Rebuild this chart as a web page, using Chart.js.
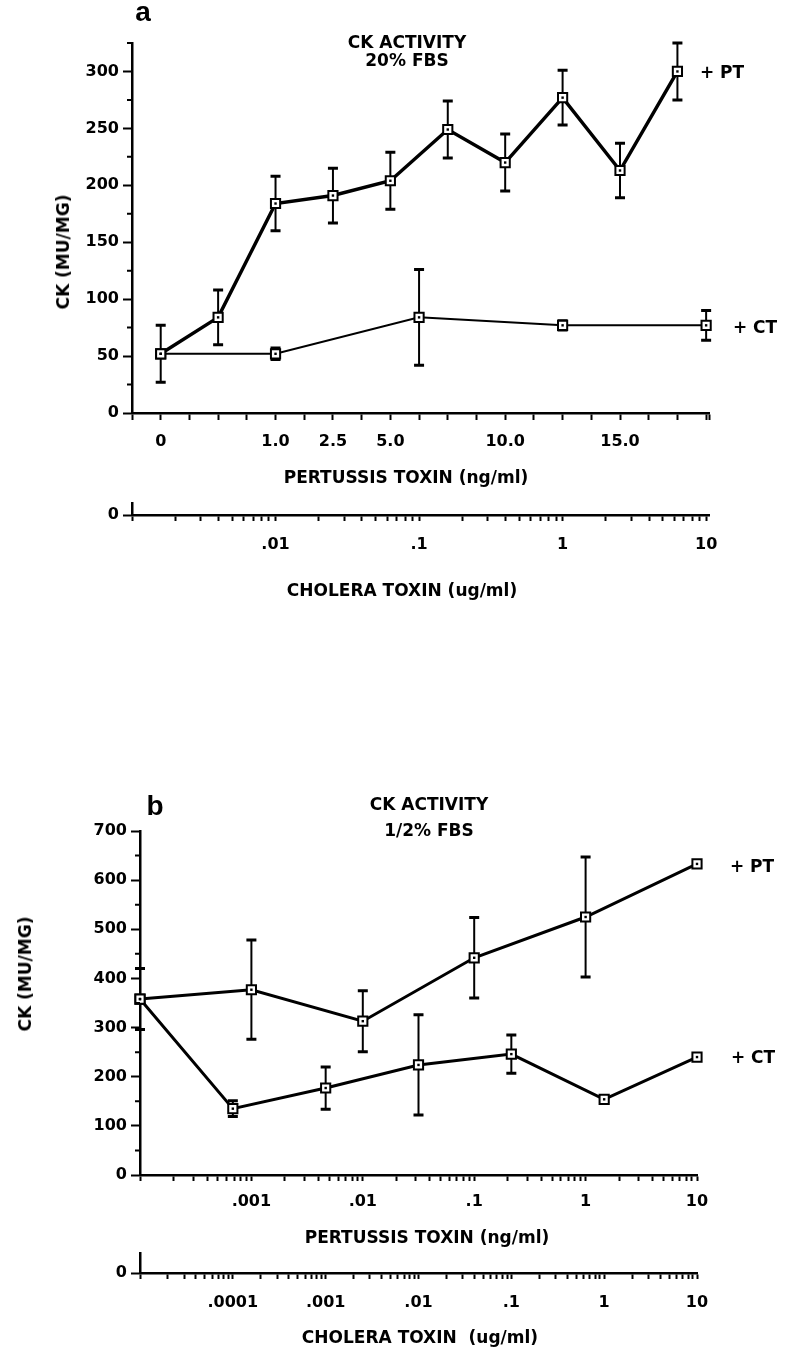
<!DOCTYPE html>
<html>
<head>
<meta charset="utf-8">
<script src="https://cdn.jsdelivr.net/npm/chart.js@4/dist/chart.umd.min.js"></script>
<style>
  body { margin: 0; background: #fff; }
  #page { position: relative; width: 791px; height: 1351px; overflow: hidden; }
  canvas { position: absolute; left: 0; }
  .t { position: absolute; transform: translate(-50%, -50%); font-family: 'DejaVu Sans'; font-weight: bold;
       font-size: 17px; color: #000; white-space: pre; text-align: center; line-height: 18px; }
  .rot { transform: translate(-50%, -50%) rotate(-90deg); }
  .letter { font-family: 'Liberation Sans'; font-size: 28px; }
</style>
</head>
<body>
<div id="page">
  <canvas id="a1" width="791" height="500" style="top:0px"></canvas>
  <canvas id="a2" width="791" height="120" style="top:490px"></canvas>
  <canvas id="b1" width="791" height="480" style="top:780px"></canvas>
  <canvas id="b2" width="791" height="111" style="top:1240px"></canvas>

  <div class="t letter" style="left:143px;top:12px">a</div>
  <div class="t" style="left:407px;top:51px">CK ACTIVITY<br>20% FBS</div>
  <div class="t rot" style="left:63px;top:252px">CK (MU/MG)</div>
  <div class="t" style="left:722px;top:72px">+ PT</div>
  <div class="t" style="left:755px;top:327px">+ CT</div>
  <div class="t" style="left:406px;top:477px">PERTUSSIS TOXIN (ng/ml)</div>
  <div class="t" style="left:402px;top:590px">CHOLERA TOXIN (ug/ml)</div>

  <div class="t letter" style="left:155px;top:806px">b</div>
  <div class="t" style="left:429px;top:817px;line-height:26px">CK ACTIVITY<br>1/2% FBS</div>
  <div class="t rot" style="left:25px;top:974px">CK (MU/MG)</div>
  <div class="t" style="left:752px;top:866px">+ PT</div>
  <div class="t" style="left:753px;top:1057px">+ CT</div>
  <div class="t" style="left:427px;top:1237px">PERTUSSIS TOXIN (ng/ml)</div>
  <div class="t" style="left:420px;top:1337px">CHOLERA TOXIN  (ug/ml)</div>
</div>

<script>
// panel a : 20% FBS, pertussis doses shown as evenly spaced positions
const aPtPos = [0, 1, 2, 3, 4, 5, 6, 7, 8, 9];
const aPtTickPos = [0, 2, 3, 4, 6, 8];
const aPtTickLabels = ['0', '1.0', '2.5', '5.0', '10.0', '15.0'];
const aPtMean = [52, 84, 184, 191, 204, 249, 220, 277, 213, 300];
const aPtErr = [25, 24, 24, 24, 25, 25, 25, 24, 24, 25];

const aCtDose = [0, 0.01, 0.1, 1, 10];
const aCtMean = [52, 52, 84, 77, 77];
const aCtErr = [0, 5, 42, 4, 13];
const aCtTickVals = [0.01, 0.1, 1, 10];
const aCtTickLabels = ['.01', '.1', '1', '10'];

// panel b : 1/2% FBS
const bPtDose = [0, 0.001, 0.01, 0.1, 1, 10];
const bPtMean = [358, 377, 313, 442, 525, 633];
const bPtErr = [62, 101, 62, 82, 122, 0];
const bPtTickVals = [0.001, 0.01, 0.1, 1, 10];
const bPtTickLabels = ['.001', '.01', '.1', '1', '10'];

const bCtDose = [0, 0.0001, 0.001, 0.01, 0.1, 1, 10];
const bCtMean = [358, 135, 177, 224, 246, 154, 240];
const bCtErr = [0, 16, 43, 102, 39, 0, 0];
const bCtTickVals = [0.0001, 0.001, 0.01, 0.1, 1, 10];
const bCtTickLabels = ['.0001', '.001', '.01', '.1', '1', '10'];

Chart.defaults.font.family = 'DejaVu Sans';
Chart.defaults.font.weight = 'bold';
Chart.defaults.font.size = 16;
Chart.defaults.color = '#000';

// cholera dose -> position on panel a's shared dose axis (one decade = 2.5 positions, .01 at 2)
function aCtPos(c) {
  return c === 0 ? 0 : 2 + 2.5 * (Math.log10(c) + 2);
}

function logTicks(minExp, maxExp) {
  const out = [];
  for (let d = minExp; d < maxExp; d++) {
    for (let m = 1; m < 10; m++) out.push(m * Math.pow(10, d));
  }
  out.push(Math.pow(10, maxExp));
  return out;
}

function labelFrom(vals, labels) {
  return function (v) {
    for (let i = 0; i < vals.length; i++) {
      const t = vals[i];
      const same = t === 0 ? Math.abs(v) < 1e-9 : Math.abs(v / t - 1) < 1e-6;
      if (same) return labels[i];
    }
    return '';
  };
}

const errorBars = {
  id: 'errorBars',
  beforeDatasetsDraw(chart) {
    const ctx = chart.ctx;
    chart.data.datasets.forEach((ds, i) => {
      if (!ds.errors) return;
      const meta = chart.getDatasetMeta(i);
      const ys = chart.scales[meta.yAxisID];
      ctx.save();
      ctx.strokeStyle = '#000';
      meta.data.forEach((pt, j) => {
        const e = ds.errors[j];
        if (!e) return;
        const v = ds.data[j].y;
        const top = ys.getPixelForValue(v + e);
        const bot = ys.getPixelForValue(v - e);
        ctx.lineWidth = 2;
        ctx.beginPath();
        ctx.moveTo(pt.x, top);
        ctx.lineTo(pt.x, bot);
        ctx.stroke();
        ctx.lineWidth = 3;
        ctx.beginPath();
        ctx.moveTo(pt.x - 5, top);
        ctx.lineTo(pt.x + 5, top);
        ctx.moveTo(pt.x - 5, bot);
        ctx.lineTo(pt.x + 5, bot);
        ctx.stroke();
      });
      ctx.restore();
    });
  },
  afterDatasetsDraw(chart) {
    // small dot inside each open square
    const ctx = chart.ctx;
    ctx.save();
    ctx.fillStyle = '#000';
    chart.data.datasets.forEach((ds, i) => {
      chart.getDatasetMeta(i).data.forEach(pt => {
        ctx.fillRect(pt.x - 1.2, pt.y - 1.2, 2.4, 2.4);
      });
    });
    ctx.restore();
  }
};

const minorTicks = {
  id: 'minorTicks',
  afterDraw(chart, args, opts) {
    if (!opts.values) return;
    const s = chart.scales.y;
    const ctx = chart.ctx;
    ctx.save();
    ctx.strokeStyle = '#000';
    ctx.lineWidth = 2;
    ctx.beginPath();
    opts.values.forEach(v => {
      const y = s.getPixelForValue(v);
      ctx.moveTo(s.right - 5, y);
      ctx.lineTo(s.right, y);
    });
    ctx.stroke();
    ctx.restore();
  }
};

function lineSet(xs, ys, errs, width, xAxis) {
  return {
    data: xs.map((x, i) => ({ x: x, y: ys[i] })),
    errors: errs,
    xAxisID: xAxis || 'x',
    borderColor: '#000',
    borderWidth: width,
    tension: 0,
    clip: false,
    pointStyle: 'rect',
    pointRadius: 6.5,
    pointBackgroundColor: '#fff',
    pointBorderColor: '#000',
    pointBorderWidth: 2
  };
}

function yAxis(max, majors, width) {
  return {
    type: 'linear',
    min: 0,
    max: max,
    afterBuildTicks: s => { s.ticks = majors.map(v => ({ value: v })); },
    afterFit: s => { s.width = width; },
    ticks: { padding: 4, font: { size: 16 } },
    grid: { drawOnChartArea: false, tickLength: 9, tickWidth: 2, tickColor: '#000' },
    border: { color: '#000', width: 2.5 }
  };
}

function xAxis(type, min, max, tickVals, labelCb, height, pad, tickLen) {
  return {
    type: type,
    min: min,
    max: max,
    afterBuildTicks: s => { s.ticks = tickVals.map(v => ({ value: v })); },
    afterFit: s => { s.height = height; },
    ticks: { padding: pad, autoSkip: false, maxRotation: 0, minRotation: 0, callback: labelCb, font: { size: 16 } },
    grid: { drawOnChartArea: false, tickLength: tickLen || 6, tickWidth: 2, tickColor: '#000' },
    border: { color: '#000', width: 2.5 }
  };
}

const common = {
  responsive: false,
  animation: false,
  devicePixelRatio: 1,
  plugins: { legend: { display: false }, tooltip: { enabled: false } }
};

// panel a, main plot
const aHalfSteps = [];
for (let n = -1; n <= 19; n++) aHalfSteps.push(n / 2);
aHalfSteps.push(9.55);
const aMinor = [];
for (let v = 25; v <= 325; v += 50) aMinor.push(v);

new Chart(document.getElementById('a1'), {
  type: 'line',
  data: {
    datasets: [
      lineSet(aCtDose.map(aCtPos), aCtMean, aCtErr, 2),
      lineSet(aPtPos, aPtMean, aPtErr, 3.5)
    ]
  },
  options: Object.assign({}, common, {
    layout: { padding: { left: 0, right: 82, top: 43, bottom: 0 } },
    plugins: Object.assign({}, common.plugins, { minorTicks: { values: aMinor } }),
    scales: {
      x: xAxis('linear', -0.5, 9.55, aHalfSteps, labelFrom(aPtTickPos, aPtTickLabels), 87, 12, 7),
      y: yAxis(325, [0, 50, 100, 150, 200, 250, 300], 132)
    }
  }),
  plugins: [errorBars, minorTicks]
});

// panel a, cholera toxin axis
new Chart(document.getElementById('a2'), {
  type: 'line',
  data: { datasets: [] },
  options: Object.assign({}, common, {
    layout: { padding: { left: 0, right: 82, top: 12, bottom: 0 } },
    scales: {
      x: xAxis('logarithmic', 0.001, 10.47, logTicks(-3, 1), labelFrom(aCtTickVals, aCtTickLabels), 95, 14),
      y: yAxis(1, [0], 132)
    }
  })
});

// panel b, main plot
const bMinor = [];
for (let v = 50; v <= 650; v += 100) bMinor.push(v);

new Chart(document.getElementById('b1'), {
  type: 'line',
  data: {
    datasets: [
      lineSet(bCtDose.map(c => c === 0 ? 1e-5 : c), bCtMean, bCtErr, 3, 'xc'),
      lineSet(bPtDose.map(c => c === 0 ? 1e-4 : c), bPtMean, bPtErr, 3)
    ]
  },
  options: Object.assign({}, common, {
    layout: { padding: { left: 0, right: 94, top: 51, bottom: 0 } },
    plugins: Object.assign({}, common.plugins, { minorTicks: { values: bMinor } }),
    scales: {
      x: xAxis('logarithmic', 1e-4, 10, logTicks(-4, 1), labelFrom(bPtTickVals, bPtTickLabels), 85, 11),
      xc: { type: 'logarithmic', min: 1e-5, max: 10, display: false },
      y: yAxis(700, [0, 100, 200, 300, 400, 500, 600, 700], 140)
    }
  }),
  plugins: [errorBars, minorTicks]
});

// panel b, cholera toxin axis
new Chart(document.getElementById('b2'), {
  type: 'line',
  data: { datasets: [] },
  options: Object.assign({}, common, {
    layout: { padding: { left: 0, right: 94, top: 13, bottom: 0 } },
    scales: {
      x: xAxis('logarithmic', 1e-5, 10, logTicks(-5, 1), labelFrom(bCtTickVals, bCtTickLabels), 78, 14),
      y: yAxis(1, [0], 140)
    }
  })
});
</script>
</body>
</html>
